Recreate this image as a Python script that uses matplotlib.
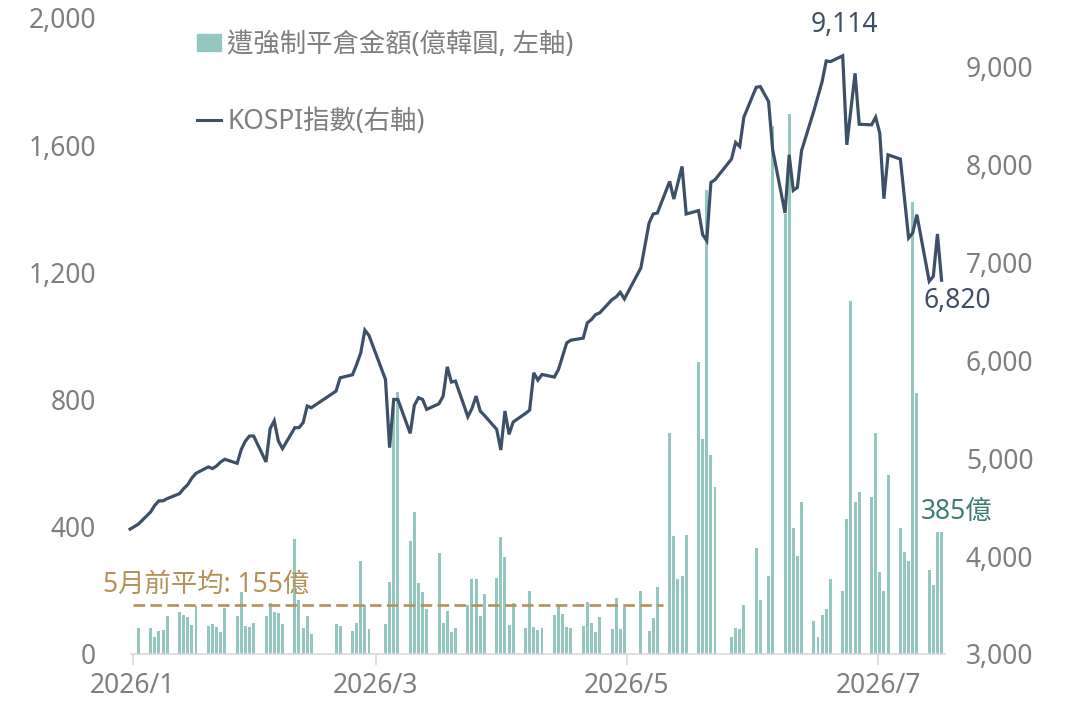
import numpy as np
import pandas as pd
import matplotlib
matplotlib.use("Agg")
import matplotlib.pyplot as plt
from matplotlib.ticker import FuncFormatter, MultipleLocator
from matplotlib.patches import Patch
from matplotlib.lines import Line2D

plt.rcParams['font.family'] = ['Noto Sans', 'Noto Sans CJK TC', 'DejaVu Sans']

# korean market holidays inside the window
holidays = ["2026-01-01", "2026-02-16", "2026-02-17", "2026-02-18", "2026-03-02",
            "2026-05-01", "2026-05-05", "2026-05-25", "2026-06-03"]
dates = pd.bdate_range("2026-01-02", "2026-07-16", freq="C", holidays=holidays)

# forced liquidation amount (100M KRW), one per trading day
liquidation = [
    # Jan
    83, 83, 54, 72, 75, 119, 132, 122, 116, 91, 151, 88, 94, 85, 69, 144, 119, 195, 88, 85, 97,
    # Feb
    119, 160, 132, 129, 94, 361, 170, 82, 119, 63, 94, 88, 72, 97, 292, 154, 78,
    # Mar
    94, 226, 795, 823, 355, 446, 223, 195, 140, 317, 97, 135, 69, 82, 154, 236, 236, 119, 188, 239, 367,
    # Apr
    305, 91, 160, 82, 198, 85, 75, 82, 122, 151, 126, 85, 82, 88, 163, 97, 69, 116, 78, 176, 78, 148,
    # May
    198, 72, 113, 210, 695, 372, 237, 246, 375, 918, 676, 1458, 625, 525, 55, 83, 79, 154,
    # Jun
    333, 170, 246, 1661, 1385, 1697, 397, 309, 478, 103, 52, 124, 143, 237, 199, 425, 1109, 478, 510, 495, 695,
    # Jul
    258, 199, 563, 397, 320, 291, 1421, 820, 265, 218, 385, 385,
]

# KOSPI close, starting from the last close of 2025
kospi_start = 4276
kospi = [
    4327, 4452, 4520, 4565, 4565, 4588, 4639, 4690, 4731, 4799, 4847, 4912, 4895, 4922, 4963, 4990,
    4949, 5092, 5177, 5228, 5228,
    4963, 5303, 5384, 5177, 5099, 5313, 5313, 5364, 5534, 5517, 5687, 5823, 5854, 5959, 6078, 6310, 6255,
    5806, 5109, 5602, 5602, 5255, 5541, 5619, 5602, 5500, 5558, 5636, 5935, 5779, 5789, 5425, 5510,
    5636, 5483, 5439, 5296, 5085,
    5483, 5245, 5371, 5459, 5493, 5874, 5799, 5857, 5830, 5908, 6044, 6180, 6207, 6228, 6385, 6418,
    6469, 6486, 6622, 6650, 6697, 6629,
    6946, 7405, 7497, 7507, 7830, 7650, 7816, 7983, 7497, 7531, 7286, 7224, 7819, 7847, 8058, 8228,
    8187, 8486,
    8792, 8799, 8646, 8153, 7507, 8102, 7738, 7769, 8143, 8551, 8700, 8850, 9061, 9054, 9114, 8204,
    8570, 8935, 8414, 8408, 8486,
    8323, 7653, 8102, 8058, 7653, 7252, 7303, 7490, 6809, 6860, 7293, 6820,
]

avg_before_may = 155
avg_end = pd.Timestamp("2026-05-09 16:00")

xtick_dates = pd.to_datetime(["2026-01-01", "2026-03-01", "2026-05-01", "2026-07-01"])
xtick_labels = ["2026/1", "2026/3", "2026/5", "2026/7"]

bar_color = "#95c7c1"
line_color = "#3e5068"
grey = "#7f7f7f"
gold = "#b5915a"

offset = pd.Timedelta(hours=9)
line_dates = [pd.Timestamp("2025-12-31")] + list(dates)

fig = plt.figure(figsize=(10.77, 7.18), dpi=100)
ax = fig.add_axes([130.6 / 1077, 64 / 718, 814.4 / 1077, 636 / 718])
ax2 = ax.twinx()

ax.bar(dates + offset, liquidation, width=0.72, color=bar_color, zorder=2)
ax.plot([pd.Timestamp("2026-01-01"), avg_end], [avg_before_may] * 2, color=gold,
        lw=1.9, linestyle=(0, (4.4, 2.0)), zorder=3)

ax2.plot([d + offset for d in line_dates], [kospi_start] + kospi, color=line_color,
         lw=2.3, clip_on=False, solid_joinstyle="miter")

ax.set_xlim(pd.Timestamp("2025-12-31 12:00"), pd.Timestamp("2026-07-17 05:00"))
ax.set_ylim(0, 2000)
ax2.set_ylim(3000, 9500)
ax.yaxis.set_major_locator(MultipleLocator(400))
ax2.yaxis.set_major_locator(MultipleLocator(1000))
fmt = FuncFormatter(lambda v, p: f"{v:,.0f}")
ax.yaxis.set_major_formatter(fmt)
ax2.yaxis.set_major_formatter(fmt)

ax.set_xticks(xtick_dates)
ax.set_xticklabels(xtick_labels)

for a in (ax, ax2):
    for s in a.spines.values():
        s.set_visible(False)
ax.spines["bottom"].set_visible(True)
ax.spines["bottom"].set_color("#d9d9d9")
ax.spines["bottom"].set_linewidth(1.2)

ax.tick_params(axis="x", length=8, width=1.2, color="#d9d9d9", labelsize=19, labelcolor=grey, pad=5)
ax.tick_params(axis="y", length=0, labelsize=19, labelcolor=grey, pad=25)
ax2.tick_params(axis="y", length=0, labelsize=19, labelcolor=grey, pad=15)

# labels
peak_i = int(np.argmax(kospi))
ax2.annotate(f"{kospi[peak_i]:,}", xy=(dates[peak_i] + offset, kospi[peak_i]),
             xytext=(1, 22), textcoords="offset points", ha="center", va="center",
             fontsize=19, color=line_color)
ax2.annotate(f"{kospi[-1]:,}", xy=(dates[-1] + offset, kospi[-1]),
             xytext=(11, -15), textcoords="offset points", ha="center", va="center",
             fontsize=19, color=line_color)
ax.annotate(f"{liquidation[-1]}億", xy=(dates[-1] + offset, liquidation[-1]),
            xytext=(11, 14), textcoords="offset points", ha="center", va="center",
            fontsize=19, color="#3d7d74")
ax.annotate(f"5月前平均: {avg_before_may}億", xy=(pd.Timestamp("2026-01-01"), avg_before_may),
            xytext=(-21, 14), textcoords="offset points", ha="left", va="center",
            fontsize=19, color=gold)

handles = [Patch(color=bar_color), Line2D([0], [0], color=line_color, lw=2.2)]
labels = ["遭強制平倉金額(億韓圓, 左軸)", "KOSPI指數(右軸)"]
ax2.legend(handles, labels, loc="upper left", bbox_to_anchor=(197 / 1077, 1 - 31 / 718),
           bbox_transform=fig.transFigure, frameon=False, fontsize=19,
           handlelength=0.9, handleheight=0.6, handletextpad=0.25, labelspacing=1.85,
           borderpad=0, borderaxespad=0, labelcolor=grey)

fig.savefig("out.png", dpi=100)
